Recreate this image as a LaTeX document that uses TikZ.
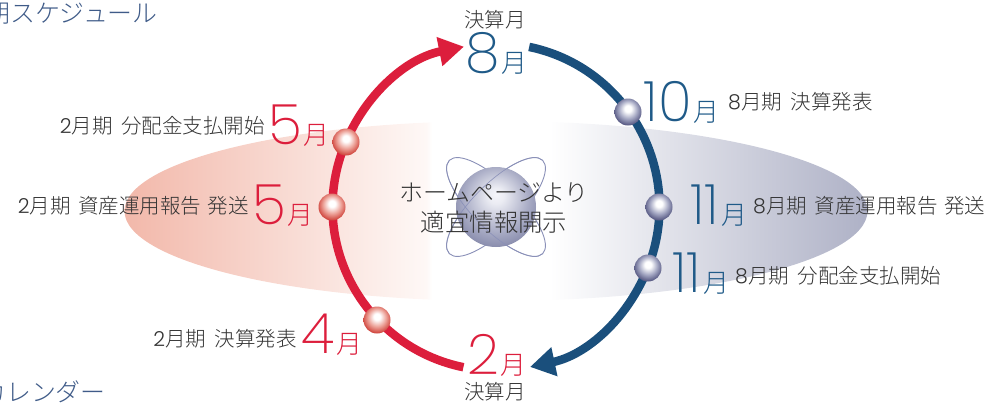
\documentclass[tikz,border=0pt]{standalone}
\usepackage{fontspec}
\setmainfont{Noto Sans CJK JP}[UprightFont=* Light]
\newfontfamily\numf{Poppins}[UprightFont=* ExtraLight]
\newfontfamily\numl{Poppins}[UprightFont=* Light]
\usetikzlibrary{arrows.meta,calc}
\definecolor{redarc}{HTML}{DC1E3C}
\definecolor{bluearc}{HTML}{1A4F7C}
\definecolor{bignum}{HTML}{1F5A88}
\definecolor{title}{HTML}{3F5B88}
\definecolor{txt}{HTML}{333333}
\definecolor{orbit}{HTML}{8A90B8}
\definecolor{haloL}{HTML}{F2B8AA}
\definecolor{haloM}{HTML}{FEF8F6}
\definecolor{haloR}{HTML}{AEB1C6}
\definecolor{rb1}{HTML}{ECA096}
\definecolor{rb2}{HTML}{D0463E}
\definecolor{rb3}{HTML}{CD5A50}
\definecolor{bb1}{HTML}{A5A8C3}
\definecolor{bb2}{HTML}{585A84}
\definecolor{bb3}{HTML}{6E7096}
\definecolor{gl0}{HTML}{F5F5FA}
\definecolor{gl1}{HTML}{EBECF3}
\definecolor{gl2}{HTML}{AAADC6}
\definecolor{gl3}{HTML}{787CA0}
\pgfdeclarehorizontalshading{halo}{100bp}{color(0bp)=(haloL);color(25bp)=(haloL);color(45.3bp)=(haloM);color(45.7bp)=(white);color(53.6bp)=(white);color(75bp)=(haloR);color(100bp)=(haloR)}
\pgfdeclareradialshading{redball}{\pgfpoint{0bp}{7bp}}{color(0bp)=(white);color(6bp)=(white);color(17bp)=(rb1);color(27bp)=(rb2);color(32bp)=(rb3);color(50bp)=(rb3)}
\pgfdeclareradialshading{blueball}{\pgfpoint{0bp}{7bp}}{color(0bp)=(white);color(6bp)=(white);color(17bp)=(bb1);color(27bp)=(bb2);color(32bp)=(bb3);color(50bp)=(bb3)}
\pgfdeclareradialshading{globe}{\pgfpoint{0bp}{8bp}}{color(0bp)=(gl0);color(5bp)=(gl1);color(20bp)=(gl2);color(33bp)=(gl3);color(50bp)=(gl3)}
\tikzset{
  lab/.style={inner sep=0pt,text=txt,font=\fontsize{20.6}{24}\selectfont},
  mon/.style={inner sep=0pt,anchor=base east},
  redball/.style={circle,inner sep=0pt,minimum size=27bp,shade,shading=redball},
  blueball/.style={circle,inner sep=0pt,minimum size=27bp,shade,shading=blueball},
  redline/.style={draw=redarc,line width=8.5bp,-{Triangle[length=25bp,width=28bp]}},
  blueline/.style={draw=bluearc,line width=8.5bp,-{Triangle[length=25bp,width=28bp]}},
  orbitline/.style={draw=orbit,line width=0.9bp},
}
\newcommand\bigmon[3]{\textcolor{#1}{{\numf\fontsize{56}{56}\selectfont #2}\hspace{#3}{\fontsize{26}{26}\selectfont 月}}}
\begin{document}
\begin{tikzpicture}[x=1bp,y=-1bp]
\useasboundingbox (0,0) rectangle (988,405);
\clip (0,0) rectangle (988,405);
\coordinate (c) at (496,207);
% halo
\shade[shading=halo] (496,211) circle[x radius=371.5bp,y radius=90bp];
% titles
\node[inner sep=0pt,anchor=east,text=title,font=\fontsize{25}{28}\selectfont] (t1) at (158,13) {期スケジュール};
\node[inner sep=0pt,anchor=east,text=title,font=\fontsize{25}{28}\selectfont] (t2) at (106,392) {カレンダー};
% globe
\coordinate (g) at (496,207);
\draw[orbitline,rotate around={45:(g)}] (g) ellipse[x radius=66bp,y radius=23bp];
\draw[orbitline,rotate around={-45:(g)}] (g) ellipse[x radius=66bp,y radius=23bp];
\node[circle,inner sep=0pt,minimum size=80bp,shade,shading=globe] (globe) at (g) {};
\draw[orbitline,line width=0.6bp,rotate around={45:(g)}] ([shift={(66bp,0bp)}]g) arc[start angle=0,end angle=180,x radius=66bp,y radius=23bp];
\draw[orbitline,line width=0.6bp,rotate around={-45:(g)}] ([shift={(66bp,0bp)}]g) arc[start angle=0,end angle=-180,x radius=66bp,y radius=23bp];
\node[inner sep=0pt,text=txt,font=\fontsize{24}{28}\selectfont] (h1) at (494,193) {ホームページより};
\node[inner sep=0pt,text=txt,font=\fontsize{24.5}{28}\selectfont] (h2) at (494,222) {適宜情報開示};
% arcs
\coordinate (r0) at ($(c)+(258.5:163.5bp)$);
\coordinate (b0) at ($(c)+(78.3:163.5bp)$);
\draw[redline] (r0) arc[start angle=258.5,end angle=101.3,radius=163.5bp];
\draw[blueline] (b0) arc[start angle=78.3,end angle=-78,radius=163.5bp];
% balls
\node[redball] (rb1) at (346,142) {};
\node[redball] (rb2) at (332,207) {};
\node[redball] (rb3) at (377,320) {};
\node[blueball] (bb1) at (628,112) {};
\node[blueball] (bb2) at (659,207) {};
\node[blueball] (bb3) at (648,268) {};
% months
\node[mon] (m1) at (330,144) {\bigmon{redarc}{5}{2bp}};
\node[mon] (m2) at (314,224) {\bigmon{redarc}{5}{2bp}};
\node[mon] (m3) at (363,353) {\bigmon{redarc}{4}{2bp}};
\node[mon] (m4) at (527,374) {\bigmon{redarc}{2}{2bp}};
\node[mon] (m5) at (528,72) {\bigmon{bignum}{8}{2bp}};
\node[mon] (m6) at (720,121) {\bigmon{bignum}{10}{2bp}};
\node[mon] (m7) at (748,224) {\bigmon{bignum}{11}{3bp}};
\node[mon] (m8) at (730,292) {\bigmon{bignum}{11}{3bp}};
% labels
\node[lab,anchor=east] (l1) at (265,126) {{\numl 2}月期\hspace{4bp} 分配金支払開始};
\node[lab,anchor=east] (l2) at (249,206) {{\numl 2}月期\hspace{3bp} 資産運用報告\hspace{2bp} 発送};
\node[lab,anchor=east] (l3) at (297,339) {{\numl 2}月期\hspace{4bp} 決算発表};
\node[lab,anchor=west] (l4) at (728,102) {{\numl 8}月期\hspace{4bp} 決算発表};
\node[lab,anchor=west] (l5) at (753,206) {{\numl 8}月期\hspace{3bp} 資産運用報告\hspace{2bp} 発送};
\node[lab,anchor=west] (l6) at (735,276) {{\numl 8}月期\hspace{4bp} 分配金支払開始};
\node[lab] (k1) at (495,20) {決算月};
\node[lab] (k2) at (495,392) {決算月};
\end{tikzpicture}
\end{document}
